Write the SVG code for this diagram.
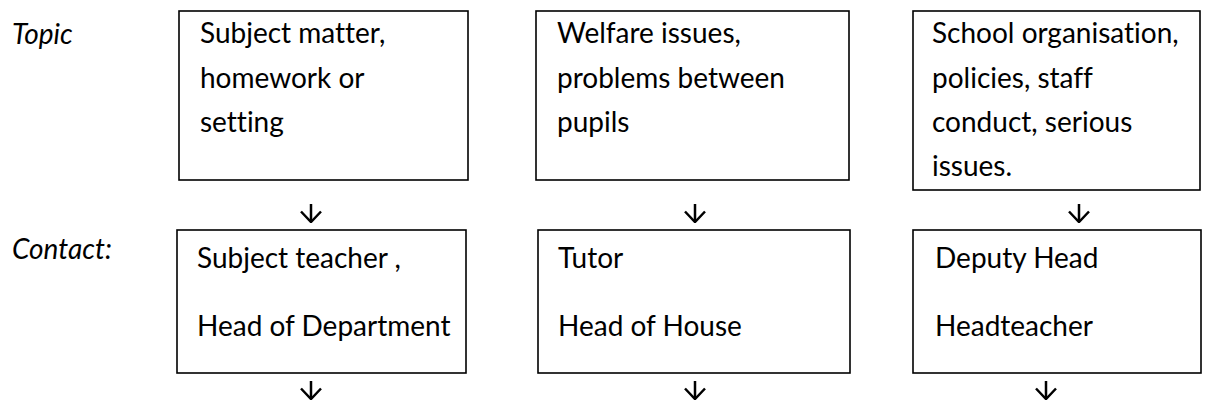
<svg xmlns="http://www.w3.org/2000/svg" width="1208" height="411" viewBox="0 0 1208 411">
  <style>
    .box { fill: #ffffff; stroke: #000000; stroke-width: 1.6; }
    .txt { font-family: Lato, "Open Sans", "Liberation Sans", sans-serif; font-size: 28px; fill: #000000; font-variant-ligatures: none; }
    .lbl { font-style: italic; }
    .arrow { stroke: #000000; stroke-width: 2.5; fill: none; marker-end: url(#head); }
  </style>
  <defs>
    <marker id="head" viewBox="0 0 22 13" refX="11" refY="12" markerWidth="22" markerHeight="13" markerUnits="userSpaceOnUse" orient="0">
      <path d="M1,1.5 L11,12 L21,1.5" fill="none" stroke="#000000" stroke-width="2.5" stroke-linejoin="miter"/>
    </marker>
  </defs>

  <rect width="1208" height="411" fill="#ffffff"/>

  <!-- row labels -->
  <g id="label-topic">
    <text class="txt lbl" x="12" y="44">Topic</text>
  </g>
  <g id="label-contact">
    <text class="txt lbl" x="12" y="259">Contact:</text>
  </g>

  <!-- topic boxes -->
  <g id="topic-subject">
    <rect class="box" x="179" y="11" width="289" height="169"/>
    <text class="txt" x="200" y="43">Subject matter,</text>
    <text class="txt" x="200" y="87.5">homework or</text>
    <text class="txt" x="200" y="132">setting</text>
  </g>
  <g id="topic-welfare">
    <rect class="box" x="536" y="11" width="313" height="169"/>
    <text class="txt" x="557" y="43">Welfare issues,</text>
    <text class="txt" x="557" y="87.5">problems between</text>
    <text class="txt" x="557" y="132">pupils</text>
  </g>
  <g id="topic-school">
    <rect class="box" x="913" y="11" width="287" height="179"/>
    <text class="txt" x="932" y="43">School organisation,</text>
    <text class="txt" x="932" y="87.5">policies, staff</text>
    <text class="txt" x="932" y="132">conduct, serious</text>
    <text class="txt" x="932" y="176">issues.</text>
  </g>

  <!-- contact boxes -->
  <g id="contact-subject">
    <rect class="box" x="177" y="230" width="289" height="143"/>
    <text class="txt" x="197" y="268">Subject teacher ,</text>
    <text class="txt" x="197" y="336">Head of Department</text>
  </g>
  <g id="contact-welfare">
    <rect class="box" x="538" y="230" width="312" height="143"/>
    <text class="txt" x="558" y="268">Tutor</text>
    <text class="txt" x="558" y="336">Head of House</text>
  </g>
  <g id="contact-school">
    <rect class="box" x="913" y="230" width="288" height="143"/>
    <text class="txt" x="935" y="268">Deputy Head</text>
    <text class="txt" x="935" y="336">Headteacher</text>
  </g>

  <!-- downward arrows -->
  <g id="connectors">
    <line class="arrow" x1="311" y1="204" x2="311" y2="222"/>
    <line class="arrow" x1="695" y1="204" x2="695" y2="222"/>
    <line class="arrow" x1="1079" y1="204" x2="1079" y2="222"/>
    <line class="arrow" x1="311" y1="381" x2="311" y2="399"/>
    <line class="arrow" x1="695" y1="381" x2="695" y2="399"/>
    <line class="arrow" x1="1046" y1="381" x2="1046" y2="399"/>
  </g>
</svg>
